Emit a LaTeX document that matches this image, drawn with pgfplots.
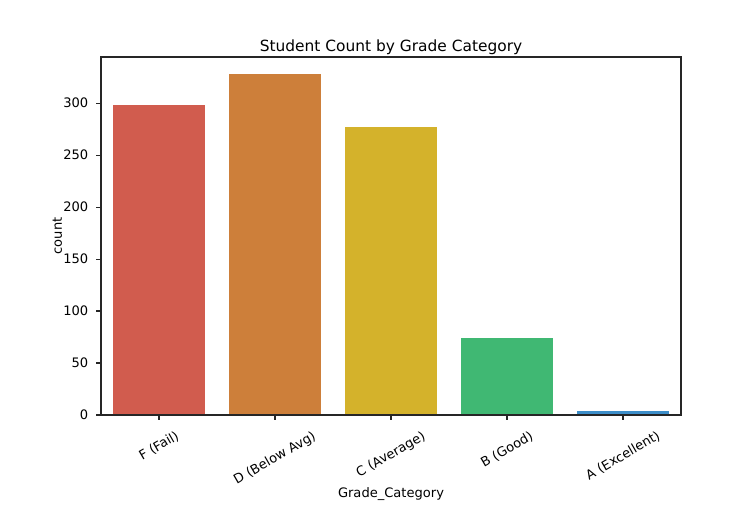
\documentclass[border=0pt]{standalone}
\usepackage{pgfplots}
\pgfplotsset{compat=1.18}
\usepackage{graphicx}
\usepackage{fontspec}
\setmainfont{DejaVu Sans}
\definecolor{cF}{RGB}{209,92,78}
\definecolor{cD}{RGB}{205,127,58}
\definecolor{cC}{RGB}{212,178,43}
\definecolor{cB}{RGB}{64,184,115}
\definecolor{cA}{RGB}{61,142,201}
\begin{document}
\fontsize{9.4bp}{11bp}\selectfont
\begin{tikzpicture}
\path[use as bounding box] (0,0) rectangle (528.48bp,370.08bp);
\begin{axis}[
  at={(72.72bp,71.28bp)}, anchor=south west,
  scale only axis, width=417.6bp, height=257.76bp,
  xmin=-0.5, xmax=4.5, ymin=0, ymax=344.4,
  ybar, bar width=0.8, bar shift=0pt,
  axis on top,
  axis line style={black!85, line width=0.8bp},
  tick style={black!85, line width=0.8bp},
  tick align=outside, major tick length=3.5bp,
  xtick={0,1,2,3,4},
  xticklabels={{\rotatebox{30}{F (Fail)}},{\rotatebox{30}{D (Below Avg)}},{\rotatebox{30}{C (Average)}},{\rotatebox{30}{B (Good)}},{\rotatebox{30}{A (Excellent)}}},
  ytick={0,50,100,150,200,250,300},
  xtick pos=bottom, ytick pos=left,
  /pgf/number format/assume math mode=true,
  ticklabel style={font=\fontsize{9.4bp}{11bp}\selectfont},
  xticklabel style={anchor=north, inner sep=0pt, yshift=-7.2bp},
  yticklabel style={anchor=east, inner sep=0pt, xshift=-5.5bp},
  title={Student Count by Grade Category},
  every axis title/.style={at={(axis description cs:0.5,1)}, anchor=base, yshift=4.3bp, inner sep=0pt, font=\fontsize{11.1bp}{13bp}\selectfont},
  xlabel={Grade\_Category},
  ylabel={count},
  every axis x label/.style={at={(axis description cs:0.5,-0.222)}, anchor=center, font=\fontsize{9.4bp}{11bp}\selectfont},
  every axis y label/.style={at={(axis description cs:-0.075,0.5)}, rotate=90, anchor=center, font=\fontsize{9.4bp}{11bp}\selectfont},
]
\addplot[fill=cF, draw=none] coordinates {(0,298)};
\addplot[fill=cD, draw=none] coordinates {(1,328)};
\addplot[fill=cC, draw=none] coordinates {(2,277)};
\addplot[fill=cB, draw=none] coordinates {(3,74)};
\addplot[fill=cA, draw=none] coordinates {(4,4)};
\end{axis}
\end{tikzpicture}
\end{document}
